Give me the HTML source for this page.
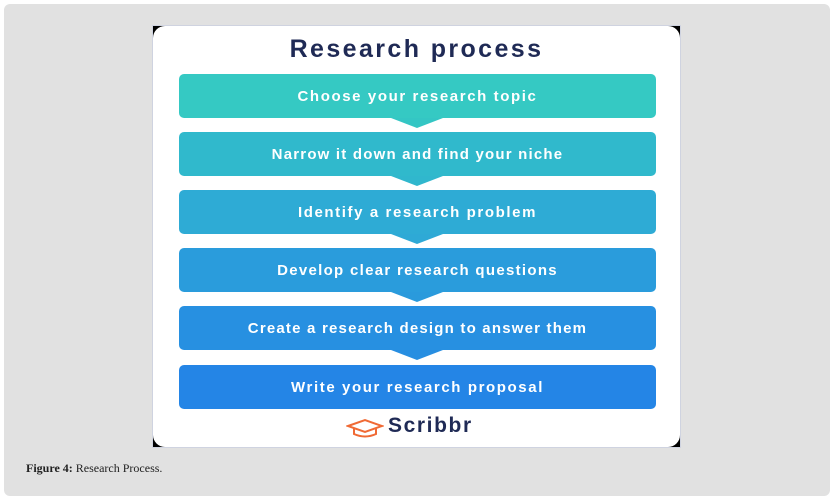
<!DOCTYPE html>
<html><head><style>
body{margin:0;width:836px;height:503px;background:#fff;font-family:"Liberation Sans",sans-serif;position:relative;overflow:hidden}
.panel{position:absolute;left:4px;top:4px;width:826px;height:492px;background:#e1e1e1;border-radius:6px}
.img{position:absolute;left:152px;top:25px;width:527px;height:421px;background:#000;border:1px solid #cfd3e0}
.inner{position:absolute;left:0;top:0;width:527px;height:421px;background:#fff;border-radius:12px}
.title{position:absolute;width:529px;top:35px;text-align:center;font-size:25px;font-weight:bold;color:#1f2a55;letter-spacing:2.4px}
.box{position:absolute;left:179px;width:477px;height:44px;border-radius:5px;color:#fff;font-weight:bold;font-size:15px;text-align:center;line-height:46px;letter-spacing:1.6px}
.arr{position:absolute;width:0;height:0;border-left:26px solid transparent;border-right:26px solid transparent;border-top:10px solid}
.cap{position:absolute;left:26px;top:461px;font-family:"Liberation Serif",serif;font-size:12px;color:#222}
</style></head><body>
<div class="panel"></div>
<div class="img"><div class="inner"></div></div>
<div class="title" style="left:152px">Research process</div>
<div class="box" style="top:74px;background:#35c9c3">Choose your research topic</div>
<div class="arr" style="left:391px;top:118px;border-top-color:#34c6c4"></div>
<div class="box" style="top:132px;background:#30b9cc;letter-spacing:1.2px">Narrow it down and find your niche</div>
<div class="arr" style="left:391px;top:176px;border-top-color:#30b7cd"></div>
<div class="box" style="top:190px;background:#2eabd5">Identify a research problem</div>
<div class="arr" style="left:391px;top:234px;border-top-color:#2ea9d6"></div>
<div class="box" style="top:248px;background:#2a9cdc;letter-spacing:1.3px">Develop clear research questions</div>
<div class="arr" style="left:391px;top:292px;border-top-color:#2a9adc"></div>
<div class="box" style="top:306px;background:#2790e1;letter-spacing:1.2px">Create a research design to answer them</div>
<div class="arr" style="left:391px;top:350px;border-top-color:#278ee1"></div>
<div class="box" style="top:365px;background:#2485e6">Write your research proposal</div>
<svg style="position:absolute;left:346px;top:418px" width="38" height="20" viewBox="0 0 38 20"><path d="M2 8 L19 2 L36 8 L19 14 Z M8 10 V16 Q19 21 30 16 V10" fill="none" stroke="#f06a35" stroke-width="2"/></svg>
<div style="position:absolute;left:388px;top:414px;font-size:21px;font-weight:bold;color:#1f2a55;letter-spacing:1.6px">Scribbr</div>
<div class="cap"><b>Figure 4:</b> Research Process.</div>
</body></html>
